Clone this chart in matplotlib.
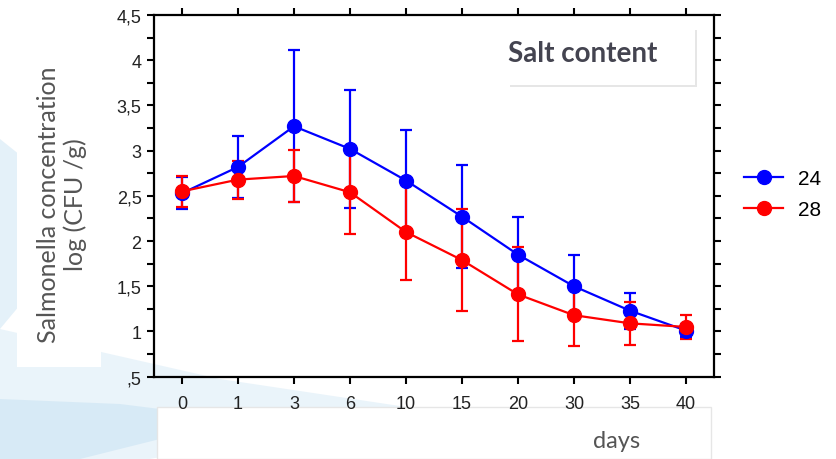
import matplotlib.pyplot as plt
import matplotlib.patches as mpatches
from matplotlib.lines import Line2D
import numpy as np

# days (categorical axis), salt content 24 and 28
days = ['0', '1', '3', '6', '10', '15', '20', '30', '35', '40']
salt_24 = [2.53, 2.82, 3.27, 3.02, 2.67, 2.27, 1.85, 1.50, 1.23, 1.01]
err_24 = [0.18, 0.34, 0.84, 0.65, 0.56, 0.57, 0.42, 0.35, 0.20, 0.07]
salt_28 = [2.55, 2.68, 2.72, 2.54, 2.10, 1.79, 1.41, 1.18, 1.09, 1.05]
err_28 = [0.17, 0.21, 0.29, 0.46, 0.53, 0.56, 0.52, 0.34, 0.24, 0.13]
yticks = [0.5, 1, 1.5, 2, 2.5, 3, 3.5, 4, 4.5]
ytick_labels = [',5', '1', '1,5', '2', '2,5', '3', '3,5', '4', '4,5']

fig = plt.figure(figsize=(8.37, 4.60), dpi=100)
fig.patch.set_facecolor('white')

# faint blue swoosh in the background
bg = fig.add_axes([0, 0, 1, 1], zorder=-10)
bg.set_xlim(0, 837)
bg.set_ylim(460, 0)
bg.axis('off')
bg.add_patch(mpatches.Polygon([[0, 330], [0, 460], [150, 460], [420, 410], [220, 380]],
                              closed=True, color='#d6eaf6', alpha=0.5, lw=0))
bg.add_patch(mpatches.Polygon([[0, 400], [0, 460], [80, 460], [240, 420], [120, 405]],
                              closed=True, color='#bcdcf0', alpha=0.4, lw=0))
bg.add_patch(mpatches.Polygon([[0, 140], [0, 330], [25, 300], [25, 160]],
                              closed=True, color='#d3e8f5', alpha=0.6, lw=0))
# white boxes behind labels
bg.add_patch(mpatches.Rectangle((17, 16), 84, 352, color='white', lw=0))
bg.add_patch(mpatches.Rectangle((157, 408), 554, 52, color='white', ec='#e6e6e6', lw=1))
bg.add_patch(mpatches.Rectangle((510, 31), 187, 57, color='#e6e6e6', lw=0))
bg.add_patch(mpatches.Rectangle((508, 29), 187, 57, color='white', lw=0))

ax = fig.add_axes([0.184, 0.179, 0.669, 0.786])
ax.patch.set_alpha(0)
x = np.arange(len(days))

ax.errorbar(x, salt_24, yerr=err_24, color='#0000ff', marker='o', markersize=10,
            lw=1.6, elinewidth=1.6, capsize=4, capthick=1.6)
ax.errorbar(x, salt_28, yerr=err_28, color='#ff0000', marker='o', markersize=10,
            lw=1.6, elinewidth=1.6, capsize=4, capthick=1.6)

ax.set_xlim(-0.5, 9.5)
ax.set_ylim(0.5, 4.5)
ax.set_xticks(x)
ax.set_xticklabels(days, fontsize=13, family='Liberation Sans')
ax.set_yticks(yticks)
ax.set_yticklabels(ytick_labels, fontsize=13, family='Liberation Sans')
ax.set_yticks(np.arange(0.75, 4.5, 0.5), minor=True)
ax.tick_params(axis='both', which='both', direction='out', length=5, width=1.5,
               top=True, right=True, labelcolor='#222222', pad=4)
ax.tick_params(axis='x', pad=8)
for s in ax.spines.values():
    s.set_linewidth(1.6)

fig.text(0.074, 0.555, 'Salmonella concentration\nlog (CFU /g)', rotation=90,
         ha='center', va='center', fontsize=18, color='#555555', family='Lato',
         linespacing=1.15)
fig.text(0.737, 0.04, 'days', ha='center', va='center', fontsize=17,
         color='#555555', family='Lato')
fig.text(0.696, 0.882, 'Salt content', ha='center', va='center', fontsize=20,
         color='#444450', family='Lato', weight='bold')

handles = [Line2D([], [], color='#0000ff', marker='o', markersize=10, lw=1.6),
           Line2D([], [], color='#ff0000', marker='o', markersize=10, lw=1.6)]
ax.legend(handles, ['24', '28'], loc='center left', bbox_to_anchor=(1.02, 0.505),
          frameon=False, handlelength=1.9, labelspacing=0.6, handletextpad=0.7,
          prop={'family': 'Liberation Sans', 'size': 15})

fig.savefig('out.png', dpi=100)
